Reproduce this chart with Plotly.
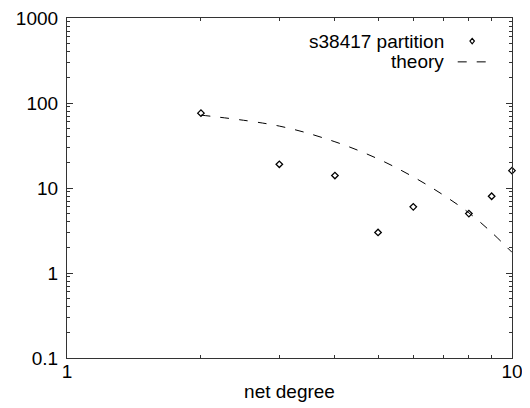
import plotly.graph_objects as go

# data
degree = [2, 3, 4, 5, 6, 8, 9, 10]
count = [76, 19, 14, 3, 6, 5, 8, 16]
theory_x = [2, 3, 4, 5, 6, 7, 8, 9, 10]
theory_y = [72, 53.5, 35, 22, 13.5, 8.3, 5.1, 3.0, 1.75]

y_ticks = [0.1, 1, 10, 100, 1000]
y_ticktext = ["0.1", "1", "10", "100", "1000"]
x_ticks = [1, 10]
x_ticktext = ["1", "10"]

FONT = "Liberation Sans, Arial, sans-serif"
FS = 19

fig = go.Figure()
fig.add_trace(go.Scatter(x=theory_x, y=theory_y, mode="lines", name="theory",
                         line=dict(color="black", width=1, dash="9px,10px", shape="spline"),
                         showlegend=False, cliponaxis=True))
fig.add_trace(go.Scatter(x=degree, y=count, mode="markers", name="s38417 partition",
                         marker=dict(symbol="diamond-open", size=5, color="black",
                                     line=dict(color="black", width=1.3)),
                         showlegend=False, cliponaxis=False))

x_minor = [v for v in range(2, 10)]
y_minor = [m * 10 ** e for e in range(-1, 3) for m in range(2, 10)]

fig.update_xaxes(type="log", range=[0, 1], tickvals=x_ticks, ticktext=x_ticktext, automargin=False,
                 ticks="inside", ticklen=6, tickcolor="#333", showline=True, linecolor="#333",
                 linewidth=1.2, mirror="ticks", showgrid=False, zeroline=False,
                 ticklabelstandoff=-4, ticklabeloverflow="allow",
                 minor=dict(tickvals=x_minor, ticks="inside", ticklen=3, tickcolor="#333", showgrid=False),
                 tickfont=dict(size=FS, color="black", family=FONT),
                 title=dict(text="net degree", font=dict(size=FS, color="black", family=FONT), standoff=3))
fig.update_yaxes(type="log", range=[-1, 3], tickvals=y_ticks, ticktext=y_ticktext, automargin=False,
                 ticks="inside", ticklen=6, tickcolor="#333", showline=True, linecolor="#333",
                 linewidth=1.2, mirror="ticks", showgrid=False, zeroline=False,
                 ticklabelstandoff=4, ticklabeloverflow="allow",
                 minor=dict(tickvals=y_minor, ticks="inside", ticklen=3, tickcolor="#333", showgrid=False),
                 tickfont=dict(size=FS, color="black", family=FONT))

# custom gnuplot-style legend (text left, sample right)
fig.add_annotation(xref="paper", yref="paper", x=0.852, y=0.932, xanchor="right", yanchor="middle",
                   text="s38417 partition", showarrow=False,
                   font=dict(size=FS, color="black", family=FONT))
fig.add_annotation(xref="paper", yref="paper", x=0.852, y=0.871, xanchor="right", yanchor="middle",
                   text="theory", showarrow=False,
                   font=dict(size=FS, color="black", family=FONT))
fig.add_shape(type="line", xref="paper", yref="paper", x0=0.878, x1=0.955, y0=0.871, y1=0.871,
              line=dict(color="black", width=1, dash="9px,10px"))
fig.add_shape(type="path", xref="paper", yref="paper",
              path="M 0.9105 0.940 L 0.9155 0.932 L 0.9105 0.924 L 0.9055 0.932 Z",
              line=dict(color="black", width=1.2))

# page body has an 8px default margin, so margins are offset to place the plot area
fig.update_layout(width=530, height=408, margin=dict(l=59, r=26, t=10, b=58, autoexpand=False),
                  plot_bgcolor="white", paper_bgcolor="white",
                  font=dict(family=FONT, color="black", size=FS))

fig.write_html("out.html")
